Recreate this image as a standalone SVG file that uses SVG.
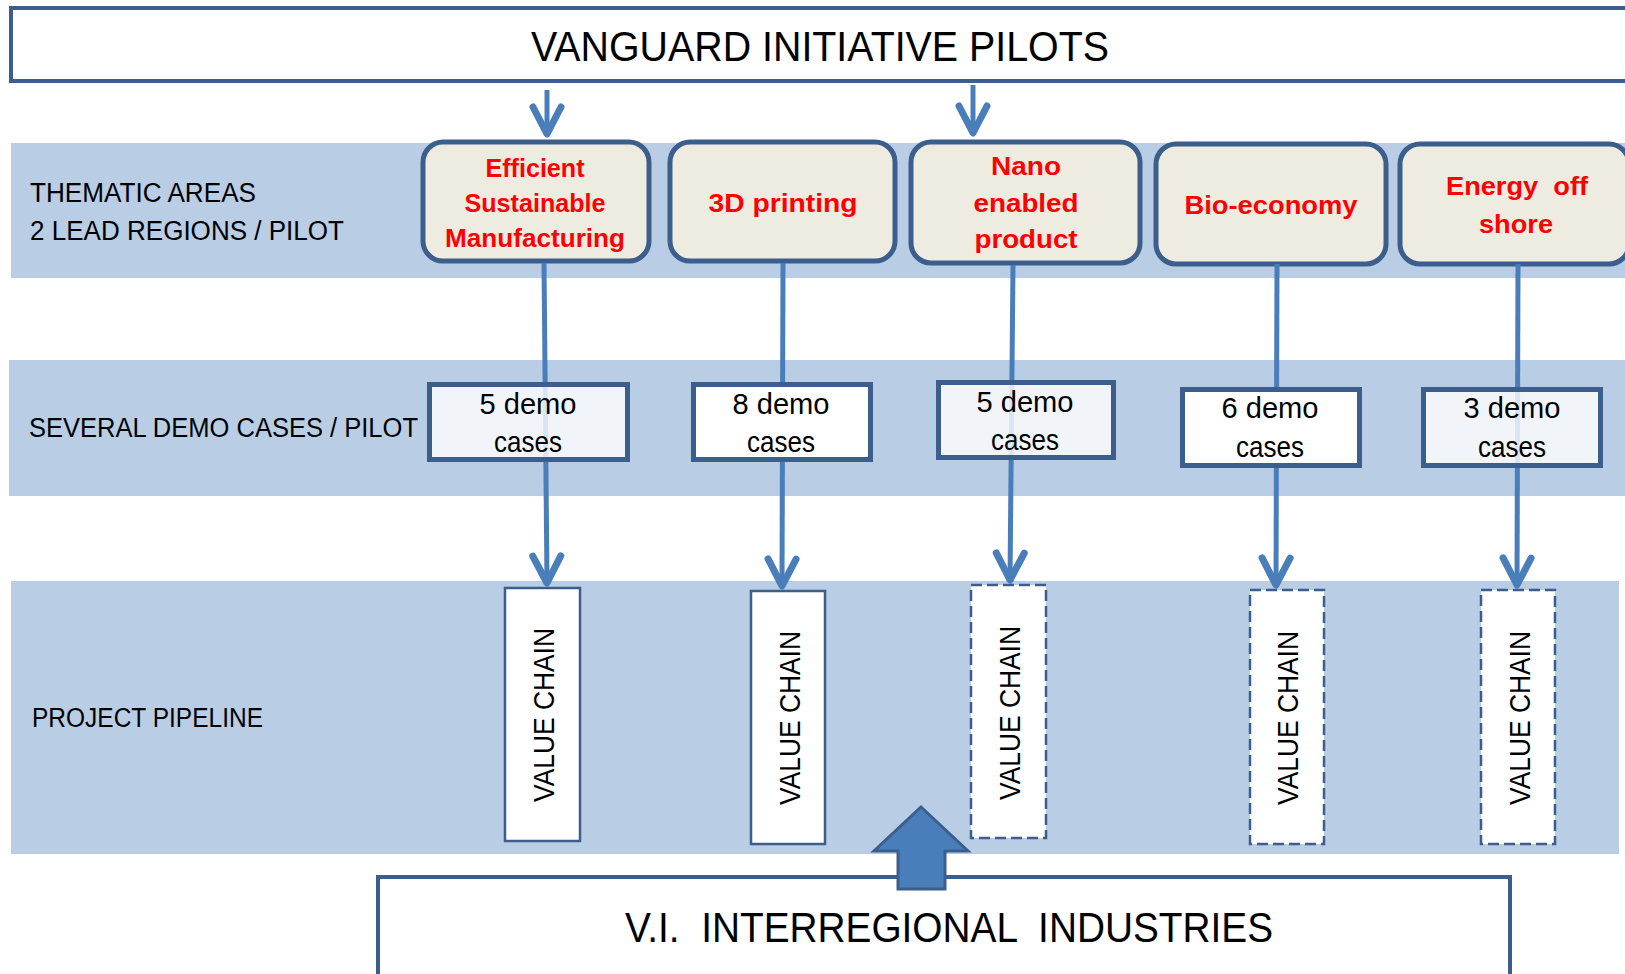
<svg xmlns="http://www.w3.org/2000/svg" width="1625" height="974" viewBox="0 0 1625 974">
<style>
  .band{fill:#B9CDE5;}
  .frame{fill:#FFFFFF;stroke:#3B5E8C;stroke-width:4;}
  .theme{fill:#EEECE1;stroke:#3B5E8C;stroke-width:5;}
  .demo{fill:#FFFFFF;stroke:#3B5E8C;stroke-width:5;}
  .demo-t{fill:#FFFFFF;fill-opacity:0.8;stroke:#3B5E8C;stroke-width:5;}
  .vc{fill:#FFFFFF;stroke:#3B5E8C;stroke-width:2.5;}
  .vcd{fill:#FFFFFF;stroke:#3B5E8C;stroke-width:2.5;stroke-dasharray:11 5;}
  .conn{fill:none;stroke:#4A7EBB;stroke-width:5;marker-end:url(#open);}
  .lbl{font-family:"Liberation Sans",Arial,sans-serif;font-size:27px;fill:#000000;}
  .big{font-family:"Liberation Sans",Arial,sans-serif;font-size:43px;fill:#000000;}
  .red{font-family:"Liberation Sans",Arial,sans-serif;font-size:26px;font-weight:bold;fill:#FF0000;text-anchor:middle;}
  .dt{font-family:"Liberation Sans",Arial,sans-serif;font-size:30px;fill:#000000;text-anchor:middle;}
  .vct{font-family:"Liberation Sans",Arial,sans-serif;font-size:29px;fill:#000000;text-anchor:middle;}
</style>
<defs>
  <marker id="open" markerUnits="userSpaceOnUse" orient="auto" refX="0" refY="0" markerWidth="40" markerHeight="40" overflow="visible">
    <path d="M -27 -14 L 0 0 L -27 14" fill="none" stroke="#4A7EBB" stroke-width="7" stroke-linejoin="round" stroke-linecap="round"/>
  </marker>
</defs>

<g id="bands">
  <rect class="band" x="11" y="143" width="1614" height="135"/>
  <rect class="band" x="9" y="360" width="1616" height="136"/>
  <rect class="band" x="11" y="581" width="1608" height="273"/>
</g>

<g id="labels">
  <text class="lbl" x="30" y="202" textLength="226" lengthAdjust="spacingAndGlyphs">THEMATIC AREAS</text>
  <text class="lbl" x="30" y="240" textLength="314" lengthAdjust="spacingAndGlyphs">2 LEAD REGIONS / PILOT</text>
  <text class="lbl" x="29" y="437" textLength="389" lengthAdjust="spacingAndGlyphs">SEVERAL DEMO CASES / PILOT</text>
  <text class="lbl" x="32" y="727" textLength="231" lengthAdjust="spacingAndGlyphs">PROJECT PIPELINE</text>
</g>

<g id="pilots">
  <rect class="frame" x="11" y="8" width="1640" height="73"/>
  <text class="big" x="531" y="61" textLength="578" lengthAdjust="spacingAndGlyphs">VANGUARD INITIATIVE PILOTS</text>
</g>

<g id="theme-efficient">
  <rect class="theme" x="423" y="142" width="226" height="119" rx="20"/>
  <text class="red" x="535" y="177" textLength="99" lengthAdjust="spacingAndGlyphs">Efficient</text>
  <text class="red" x="535" y="212" textLength="141" lengthAdjust="spacingAndGlyphs">Sustainable</text>
  <text class="red" x="535" y="247" textLength="180" lengthAdjust="spacingAndGlyphs">Manufacturing</text>
</g>
<g id="theme-3d">
  <rect class="theme" x="670" y="142" width="225" height="119" rx="20"/>
  <text class="red" x="783" y="212" textLength="149" lengthAdjust="spacingAndGlyphs">3D printing</text>
</g>
<g id="theme-nano">
  <rect class="theme" x="911" y="142" width="229" height="121" rx="20"/>
  <text class="red" x="1026" y="175" textLength="70" lengthAdjust="spacingAndGlyphs">Nano</text>
  <text class="red" x="1026" y="212" textLength="105" lengthAdjust="spacingAndGlyphs">enabled</text>
  <text class="red" x="1026" y="248" textLength="103" lengthAdjust="spacingAndGlyphs">product</text>
</g>
<g id="theme-bio">
  <rect class="theme" x="1156" y="144" width="230" height="120" rx="20"/>
  <text class="red" x="1271" y="214" textLength="173" lengthAdjust="spacingAndGlyphs">Bio-economy</text>
</g>
<g id="theme-energy">
  <rect class="theme" x="1400" y="144" width="229" height="120" rx="20"/>
  <text class="red" x="1517" y="195" textLength="142" lengthAdjust="spacingAndGlyphs" xml:space="preserve">Energy  off</text>
  <text class="red" x="1516" y="233" textLength="74" lengthAdjust="spacingAndGlyphs">shore</text>
</g>

<g id="connectors">
  <line class="conn" x1="547" y1="90" x2="547" y2="134"/>
  <line class="conn" x1="973" y1="85" x2="973" y2="133"/>
  <line class="conn" x1="544" y1="263" x2="547" y2="583"/>
  <line class="conn" x1="783" y1="263" x2="782" y2="586"/>
  <line class="conn" x1="1013" y1="265" x2="1010" y2="580"/>
  <line class="conn" x1="1277" y1="264" x2="1276" y2="585"/>
  <line class="conn" x1="1518" y1="264" x2="1517" y2="585"/>
</g>

<g id="demo-1">
  <rect class="demo-t" x="429.5" y="384.5" width="198" height="75"/>
  <text class="dt" x="528" y="414" textLength="97" lengthAdjust="spacingAndGlyphs">5 demo</text>
  <text class="dt" x="528" y="452" textLength="68" lengthAdjust="spacingAndGlyphs">cases</text>
</g>
<g id="demo-2">
  <rect class="demo" x="693.5" y="384.5" width="177" height="75"/>
  <text class="dt" x="781" y="414" textLength="97" lengthAdjust="spacingAndGlyphs">8 demo</text>
  <text class="dt" x="781" y="452" textLength="68" lengthAdjust="spacingAndGlyphs">cases</text>
</g>
<g id="demo-3">
  <rect class="demo-t" x="938.5" y="382.5" width="175" height="75"/>
  <text class="dt" x="1025" y="412" textLength="97" lengthAdjust="spacingAndGlyphs">5 demo</text>
  <text class="dt" x="1025" y="450" textLength="68" lengthAdjust="spacingAndGlyphs">cases</text>
</g>
<g id="demo-4">
  <rect class="demo" x="1182.5" y="389.5" width="177" height="76"/>
  <text class="dt" x="1270" y="418" textLength="97" lengthAdjust="spacingAndGlyphs">6 demo</text>
  <text class="dt" x="1270" y="457" textLength="68" lengthAdjust="spacingAndGlyphs">cases</text>
</g>
<g id="demo-5">
  <rect class="demo-t" x="1423.5" y="389.5" width="177" height="76"/>
  <text class="dt" x="1512" y="418" textLength="97" lengthAdjust="spacingAndGlyphs">3 demo</text>
  <text class="dt" x="1512" y="457" textLength="68" lengthAdjust="spacingAndGlyphs">cases</text>
</g>

<g id="vc-1">
  <rect class="vc" x="505" y="588" width="75" height="253"/>
  <text class="vct" transform="translate(554,715) rotate(-90)" x="0" y="0" textLength="174" lengthAdjust="spacingAndGlyphs">VALUE CHAIN</text>
</g>
<g id="vc-2">
  <rect class="vc" x="751" y="591" width="74" height="253"/>
  <text class="vct" transform="translate(800,718) rotate(-90)" x="0" y="0" textLength="174" lengthAdjust="spacingAndGlyphs">VALUE CHAIN</text>
</g>
<g id="vc-3">
  <rect class="vcd" x="971" y="585" width="75" height="253"/>
  <text class="vct" transform="translate(1020,713) rotate(-90)" x="0" y="0" textLength="174" lengthAdjust="spacingAndGlyphs">VALUE CHAIN</text>
</g>
<g id="vc-4">
  <rect class="vcd" x="1250" y="590" width="74" height="254"/>
  <text class="vct" transform="translate(1298,718) rotate(-90)" x="0" y="0" textLength="174" lengthAdjust="spacingAndGlyphs">VALUE CHAIN</text>
</g>
<g id="vc-5">
  <rect class="vcd" x="1481" y="590" width="74" height="254"/>
  <text class="vct" transform="translate(1530,718) rotate(-90)" x="0" y="0" textLength="174" lengthAdjust="spacingAndGlyphs">VALUE CHAIN</text>
</g>

<g id="industries">
  <rect class="frame" x="378" y="877" width="1132" height="120"/>
  <text class="big" x="625" y="942" textLength="648" lengthAdjust="spacingAndGlyphs" xml:space="preserve">V.I.  INTERREGIONAL  INDUSTRIES</text>
</g>

<g id="up-arrow">
  <polygon points="921,807 968,851 945,851 945,889 898,889 898,851 874,851" fill="#4A7EBB" stroke="#3B5E8C" stroke-width="3" stroke-linejoin="miter"/>
</g>
</svg>
